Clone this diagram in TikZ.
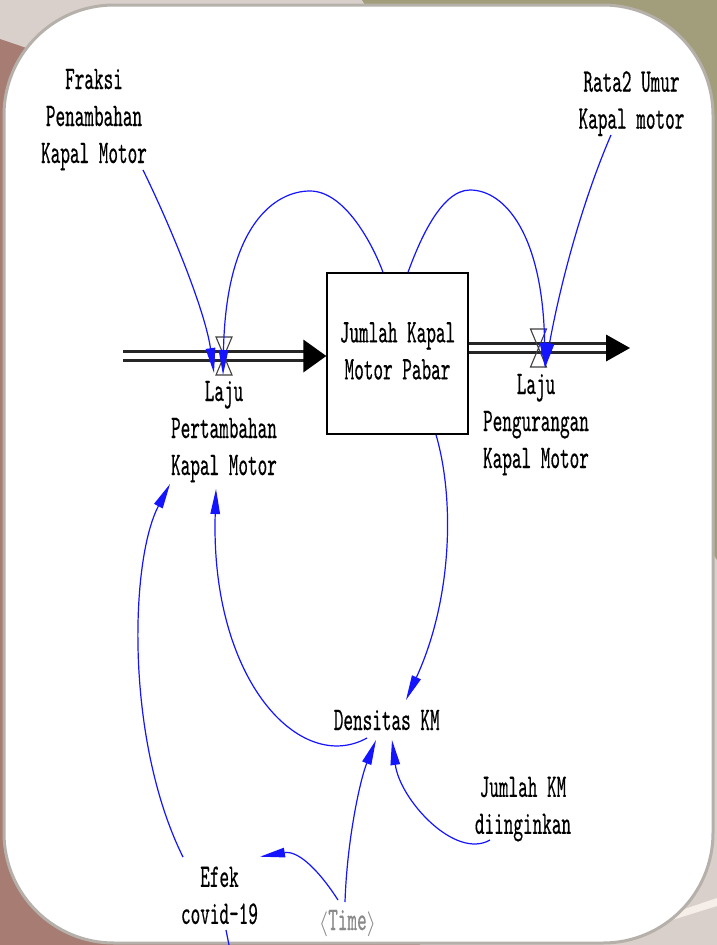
\documentclass[tikz,border=0pt]{standalone}
\usepackage{fontspec}
\usetikzlibrary{arrows.meta}
% narrow typewriter face for all diagram labels
\newfontfamily\vfont[FakeStretch=0.555,FakeBold=0.4]{lmmono10-regular.otf}
\definecolor{bgpale}{HTML}{D9CFCB}
\definecolor{bgbrown}{HTML}{A67C73}
\definecolor{bgolive}{HTML}{A29D7A}
\definecolor{bgcream}{HTML}{F6EEE8}
\definecolor{panelrim}{HTML}{B6B0AA}
\definecolor{linkblue}{HTML}{1414FF}
\definecolor{timegray}{HTML}{8A8A8A}
\begin{document}
\begin{tikzpicture}[x=1pt,y=-1pt,
  lbl/.style={font=\vfont\fontsize{33}{37}\selectfont, align=center, inner sep=0pt},
  stockbox/.style={lbl, draw=black, line width=1.4pt, minimum width=141pt, minimum height=161pt},
  link/.style={draw=linkblue, line width=1.2pt, -{Triangle[length=25pt,width=9.5pt]}},
  pipe/.style={draw=black!85, line width=2.4pt, double=white, double distance=6.6pt},
  valve/.style={draw=black!75, line width=1.1pt},
  panel/.style={fill=white, draw=panelrim, line width=3pt, rounded corners=110pt}]
\useasboundingbox (0,0) rectangle (717,945);

% backdrop and white panel
\fill[bgpale] (0,0) rectangle (717,945);
\fill[bgbrown] (0,39) -- (120,80) -- (420,945) -- (0,945) -- cycle;
\fill[bgolive] (362,0) -- (717,0) -- (717,560) -- cycle;
\fill[bgcream] (717,898) -- (717,906) -- (640,930) -- (640,924) -- cycle;
\draw[panel] (4,5) rectangle (713,943);

% stock
\node[stockbox] (stock) at (397.5,353.5) {\strut Jumlah Kapal\\\strut Motor Pabar};

% auxiliaries and rates
\node[lbl] (fraksi) at (94,118.6) {\strut Fraksi\\\strut Penambahan\\\strut Kapal Motor};
\node[lbl] (rata) at (631.5,102.8) {\strut Rata2 Umur\\\strut Kapal motor};
\node[lbl] (lajuin) at (224,430.6) {\strut Laju\\\strut Pertambahan\\\strut Kapal Motor};
\node[lbl] (lajuout) at (536,423.6) {\strut Laju\\\strut Pengurangan\\\strut Kapal Motor};
\node[lbl] (densitas) at (386.7,722.6) {\strut Densitas KM};
\node[lbl] (jkm) at (523,808) {\strut Jumlah KM\\\strut diinginkan};
\node[lbl] (efek) at (219.5,898) {\strut Efek\\\strut covid-19};
\node[lbl, text=timegray] (time) at (347.5,922.6) {\strut$\langle$Time$\rangle$};

% flow pipes
\coordinate (src) at (123,356);
\coordinate (vin) at (224,356);
\coordinate (snk) at (630,348);
\coordinate (vout) at (538.5,348);
\draw[pipe, shorten >=20pt] (src) -- (src -| stock.west);
\fill[black] (src -| stock.west) -- ++(-23,-16.5) -- ++(0,33) -- cycle;
\draw[pipe, shorten >=22pt] (snk -| stock.east) -- (snk);
\fill[black] (snk) -- ++(-24,-13.5) -- ++(0,27) -- cycle;

% valves
\draw[valve] ([shift={(-8,-19)}]vin) -- ([shift={(8,-19)}]vin) -- ([shift={(-8,19)}]vin) -- ([shift={(8,19)}]vin) -- cycle;
\draw[valve] ([shift={(-8,-19)}]vout) -- ([shift={(8,-19)}]vout) -- ([shift={(-8,19)}]vout) -- ([shift={(8,19)}]vout) -- cycle;

% information links
\draw[link] ([shift={(49,51.4)}]fraksi.center) .. controls (170,225) and (205,310) .. ([shift={(-10,17)}]vin);
\draw[link] ([shift={(-14.5,0)}]stock.north) .. controls (373,245) and (345,191) .. (310,191)
  .. controls (275,191) and (226,225) .. ([shift={(-1,19)}]vin);
\draw[link] ([shift={(10.5,0)}]stock.north) .. controls (418,245) and (440,190) .. (470,190)
  .. controls (505,190) and (543,235) .. ([shift={(6.5,20)}]vout);
\draw[link] ([shift={(-20.5,32.2)}]rata.center) .. controls (585,195) and (562,275) .. ([shift={(6.5,20)}]vout);
\draw[link] ([shift={(38.5,0)}]stock.south) .. controls (455,500) and (452,600) .. ([shift={(19.3,-22.6)}]densitas.center);
\draw[link] ([shift={(-19.7,15.4)}]densitas.center) .. controls (300,775) and (210,680) .. ([shift={(-8,58.4)}]lajuin.center);
\draw[link] ([shift={(-36.5,-41)}]efek.center) .. controls (125,740) and (130,560) .. ([shift={(-54,53.4)}]lajuin.center);
\draw[link] ([shift={(-33,32)}]jkm.center) .. controls (455,860) and (400,800) .. ([shift={(5.3,17.4)}]densitas.center);
\draw[link] ([shift={(-2.5,-20.6)}]time.center) .. controls (347,840) and (360,780) .. ([shift={(-10.7,17.4)}]densitas.center);
\draw[link] ([shift={(-9.5,-22.6)}]time.center) .. controls (322,875) and (300,850) .. ([shift={(40.5,-41.3)}]efek.center);
\coordinate (efekout) at (229,945);
\draw[draw=linkblue, line width=1.2pt] ([shift={(6.5,32)}]efek.center) -- (efekout);
\end{tikzpicture}
\end{document}
